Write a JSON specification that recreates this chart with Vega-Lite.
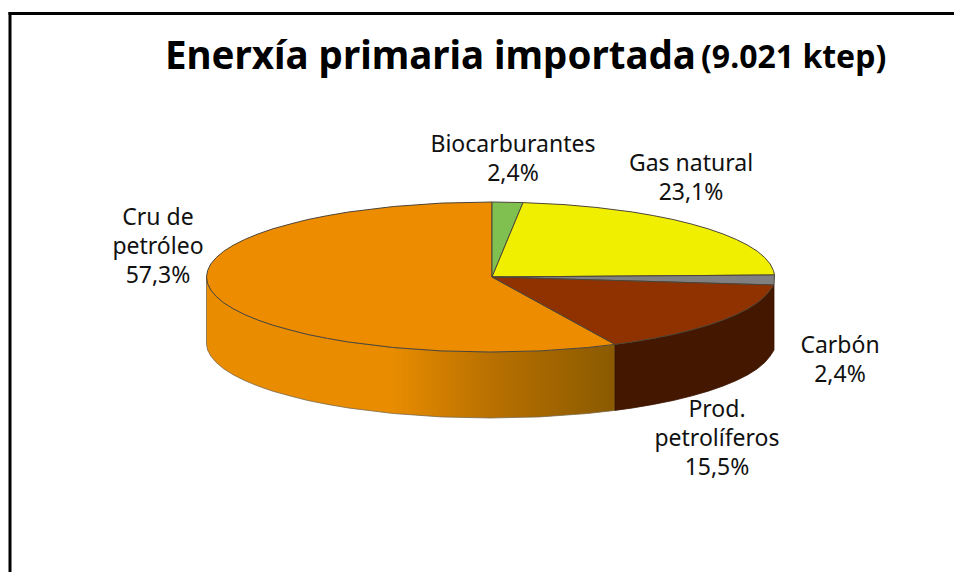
{
"$schema":"https://vega.github.io/schema/vega-lite/v6.json",
"width":954,"height":572,"padding":0,"autosize":{"type":"none"},
"background":"white",
"config":{"view":{"stroke":null}},
"datasets":{
"orangeSide":[
{"o":1,"x":206.5,"y":277},{"o":2,"x":207.6,"y":283.5},{"o":3,"x":210.8,"y":290},{"o":4,"x":216.2,"y":296.4},{"o":5,"x":223.6,"y":302.7},{"o":6,"x":233.1,"y":308.7},{"o":7,"x":244.6,"y":314.5},{"o":8,"x":257.9,"y":320},{"o":9,"x":272.9,"y":325.2},{"o":10,"x":290.3,"y":330},{"o":11,"x":307.9,"y":334.5},{"o":12,"x":327.6,"y":338.4},{"o":13,"x":348.5,"y":342},{"o":14,"x":393.4,"y":347.5},{"o":15,"x":441.2,"y":350.9},{"o":16,"x":490.5,"y":352},{"o":17,"x":539.8,"y":350.9},{"o":18,"x":587.6,"y":347.5},{"o":19,"x":615,"y":344.4},
{"o":20,"x":615,"y":410.4},{"o":21,"x":587.6,"y":413.5},{"o":22,"x":539.8,"y":416.9},{"o":23,"x":490.5,"y":418},{"o":24,"x":441.2,"y":416.9},{"o":25,"x":393.4,"y":413.5},{"o":26,"x":348.5,"y":408},{"o":27,"x":327.6,"y":404.4},{"o":28,"x":307.9,"y":400.5},{"o":29,"x":290.3,"y":396},{"o":30,"x":272.9,"y":391.2},{"o":31,"x":257.9,"y":386},{"o":32,"x":244.6,"y":380.5},{"o":33,"x":233.1,"y":374.7},{"o":34,"x":223.6,"y":368.7},{"o":35,"x":216.2,"y":362.4},{"o":36,"x":210.8,"y":356},{"o":37,"x":207.6,"y":350},{"o":38,"x":206.5,"y":344},{"o":39,"x":206.5,"y":277}],
"brownSide":[
{"o":1,"x":615,"y":344.4},{"o":2,"x":632.5,"y":342},{"o":3,"x":653.4,"y":338.4},{"o":4,"x":673.1,"y":334.5},{"o":5,"x":691.3,"y":330},{"o":6,"x":708.1,"y":325.2},{"o":7,"x":723.1,"y":320},{"o":8,"x":736.4,"y":314.5},{"o":9,"x":747.9,"y":308.7},{"o":10,"x":757.4,"y":302.7},{"o":11,"x":764.8,"y":296.4},{"o":12,"x":770.2,"y":290},{"o":13,"x":774,"y":285},
{"o":14,"x":774,"y":350},{"o":15,"x":770.2,"y":356},{"o":16,"x":764.8,"y":362.4},{"o":17,"x":757.4,"y":368.7},{"o":18,"x":747.9,"y":374.7},{"o":19,"x":736.4,"y":380.5},{"o":20,"x":723.1,"y":386},{"o":21,"x":708.1,"y":391.2},{"o":22,"x":691.3,"y":396},{"o":23,"x":673.1,"y":400.5},{"o":24,"x":653.4,"y":404.4},{"o":25,"x":632.5,"y":408},{"o":26,"x":615,"y":410.4},{"o":27,"x":615,"y":344.4}],
"wedges":[
{"sector":"Cru de petróleo","o":1,"x":492,"y":277},{"sector":"Cru de petróleo","o":2,"x":615,"y":344.4},{"sector":"Cru de petróleo","o":3,"x":587.6,"y":347.5},{"sector":"Cru de petróleo","o":4,"x":539.8,"y":350.9},{"sector":"Cru de petróleo","o":5,"x":490.5,"y":352},{"sector":"Cru de petróleo","o":6,"x":441.2,"y":350.9},{"sector":"Cru de petróleo","o":7,"x":393.4,"y":347.5},{"sector":"Cru de petróleo","o":8,"x":348.5,"y":342},{"sector":"Cru de petróleo","o":9,"x":327.6,"y":338.4},{"sector":"Cru de petróleo","o":10,"x":307.9,"y":334.5},{"sector":"Cru de petróleo","o":11,"x":290.3,"y":330},{"sector":"Cru de petróleo","o":12,"x":272.9,"y":325.2},{"sector":"Cru de petróleo","o":13,"x":257.9,"y":320},{"sector":"Cru de petróleo","o":14,"x":244.6,"y":314.5},{"sector":"Cru de petróleo","o":15,"x":233.1,"y":308.7},{"sector":"Cru de petróleo","o":16,"x":223.6,"y":302.7},{"sector":"Cru de petróleo","o":17,"x":216.2,"y":296.4},{"sector":"Cru de petróleo","o":18,"x":210.8,"y":290},{"sector":"Cru de petróleo","o":19,"x":207.6,"y":283.5},{"sector":"Cru de petróleo","o":20,"x":206.5,"y":277},{"sector":"Cru de petróleo","o":21,"x":207.6,"y":270.5},{"sector":"Cru de petróleo","o":22,"x":210.8,"y":264},{"sector":"Cru de petróleo","o":23,"x":216.2,"y":257.6},{"sector":"Cru de petróleo","o":24,"x":223.6,"y":251.3},{"sector":"Cru de petróleo","o":25,"x":233.1,"y":245.3},{"sector":"Cru de petróleo","o":26,"x":244.6,"y":239.5},{"sector":"Cru de petróleo","o":27,"x":257.9,"y":234},{"sector":"Cru de petróleo","o":28,"x":272.9,"y":228.8},{"sector":"Cru de petróleo","o":29,"x":290.3,"y":224},{"sector":"Cru de petróleo","o":30,"x":307.9,"y":219.5},{"sector":"Cru de petróleo","o":31,"x":327.6,"y":215.6},{"sector":"Cru de petróleo","o":32,"x":348.5,"y":212},{"sector":"Cru de petróleo","o":33,"x":393.4,"y":206.5},{"sector":"Cru de petróleo","o":34,"x":441.2,"y":203.1},{"sector":"Cru de petróleo","o":35,"x":492,"y":202},{"sector":"Cru de petróleo","o":36,"x":492,"y":277},
{"sector":"Biocarburantes","o":1,"x":492,"y":277},{"sector":"Biocarburantes","o":2,"x":492,"y":202},{"sector":"Biocarburantes","o":3,"x":523,"y":202.6},{"sector":"Biocarburantes","o":4,"x":492,"y":277},
{"sector":"Gas natural","o":1,"x":492,"y":277},{"sector":"Gas natural","o":2,"x":523,"y":202.6},{"sector":"Gas natural","o":3,"x":564,"y":204.6},{"sector":"Gas natural","o":4,"x":596.9,"y":207.5},{"sector":"Gas natural","o":5,"x":632.5,"y":212},{"sector":"Gas natural","o":6,"x":653.4,"y":215.6},{"sector":"Gas natural","o":7,"x":673.1,"y":219.5},{"sector":"Gas natural","o":8,"x":691.3,"y":224},{"sector":"Gas natural","o":9,"x":708.1,"y":228.8},{"sector":"Gas natural","o":10,"x":723.1,"y":234},{"sector":"Gas natural","o":11,"x":736.4,"y":239.5},{"sector":"Gas natural","o":12,"x":747.9,"y":245.3},{"sector":"Gas natural","o":13,"x":757.4,"y":251.3},{"sector":"Gas natural","o":14,"x":764.8,"y":257.6},{"sector":"Gas natural","o":15,"x":770.2,"y":264},{"sector":"Gas natural","o":16,"x":773.4,"y":270.5},{"sector":"Gas natural","o":17,"x":774.5,"y":275},{"sector":"Gas natural","o":18,"x":492,"y":277},
{"sector":"Carbón","o":1,"x":492,"y":277},{"sector":"Carbón","o":2,"x":774.5,"y":275},{"sector":"Carbón","o":3,"x":774,"y":285},{"sector":"Carbón","o":4,"x":492,"y":277},
{"sector":"Prod. petrolíferos","o":1,"x":492,"y":277},{"sector":"Prod. petrolíferos","o":2,"x":774,"y":285},{"sector":"Prod. petrolíferos","o":3,"x":770.2,"y":290},{"sector":"Prod. petrolíferos","o":4,"x":764.8,"y":296.4},{"sector":"Prod. petrolíferos","o":5,"x":757.4,"y":302.7},{"sector":"Prod. petrolíferos","o":6,"x":747.9,"y":308.7},{"sector":"Prod. petrolíferos","o":7,"x":736.4,"y":314.5},{"sector":"Prod. petrolíferos","o":8,"x":723.1,"y":320},{"sector":"Prod. petrolíferos","o":9,"x":708.1,"y":325.2},{"sector":"Prod. petrolíferos","o":10,"x":691.3,"y":330},{"sector":"Prod. petrolíferos","o":11,"x":673.1,"y":334.5},{"sector":"Prod. petrolíferos","o":12,"x":653.4,"y":338.4},{"sector":"Prod. petrolíferos","o":13,"x":632.5,"y":342},{"sector":"Prod. petrolíferos","o":14,"x":615,"y":344.4},{"sector":"Prod. petrolíferos","o":15,"x":492,"y":277}
]},
"layer":[
{"data":{"name":"orangeSide"},
 "mark":{"type":"line","strokeWidth":0.8,"stroke":"#7a6a4a","fill":{"gradient":"linear","x1":0,"x2":1,"y1":0,"y2":0,"stops":[{"offset":0,"color":"#e98c00"},{"offset":0.45,"color":"#e98c00"},{"offset":0.7,"color":"#b87000"},{"offset":1,"color":"#8a5a00"}]}},
 "encoding":{"x":{"field":"x","type":"quantitative","scale":{"domain":[0,954]},"axis":null},"y":{"field":"y","type":"quantitative","scale":{"domain":[572,0]},"axis":null},"order":{"field":"o"}}},
{"data":{"name":"brownSide"},
 "mark":{"type":"line","strokeWidth":0.8,"stroke":"#3a1500","fill":"#441700"},
 "encoding":{"x":{"field":"x","type":"quantitative","scale":{"domain":[0,954]},"axis":null},"y":{"field":"y","type":"quantitative","scale":{"domain":[572,0]},"axis":null},"order":{"field":"o"}}},
{"data":{"name":"wedges"},
 "mark":{"type":"line","strokeWidth":1,"stroke":"#4d4538"},
 "encoding":{"x":{"field":"x","type":"quantitative","scale":{"domain":[0,954]},"axis":null},"y":{"field":"y","type":"quantitative","scale":{"domain":[572,0]},"axis":null},"order":{"field":"o"},
  "fill":{"field":"sector","type":"nominal","legend":null,"scale":{"domain":["Cru de petróleo","Biocarburantes","Gas natural","Carbón","Prod. petrolíferos"],"range":["#ee8c00","#80c050","#f0ef00","#808080","#8f3200"]}}}},
{"data":{"values":[
 {"label":"Biocarburantes\n2,4%","x":513,"y":145},
 {"label":"Gas natural\n23,1%","x":691,"y":164},
 {"label":"Cru de\npetróleo\n57,3%","x":158,"y":218},
 {"label":"Carbón\n2,4%","x":840,"y":346},
 {"label":"Prod.\npetrolíferos\n15,5%","x":717,"y":410}]},
 "mark":{"type":"text","font":"Noto Sans","fontSize":23,"lineHeight":29,"lineBreak":"\n","color":"#111111","align":"center","baseline":"middle"},
 "encoding":{"x":{"field":"x","type":"quantitative","scale":{"domain":[0,954]},"axis":null},"y":{"field":"y","type":"quantitative","scale":{"domain":[572,0]},"axis":null},"text":{"field":"label"}}},
{"data":{"values":[
 {"t":"Enerxía primaria importada","x":165,"y":57,"s":"a"},
 {"t":"(9.021 ktep)","x":701,"y":58,"s":"b"}]},
 "mark":{"type":"text","font":"Noto Sans","fontWeight":"bold","align":"left","baseline":"middle","color":"black"},
 "encoding":{"x":{"field":"x","type":"quantitative","scale":{"domain":[0,954]},"axis":null},"y":{"field":"y","type":"quantitative","scale":{"domain":[572,0]},"axis":null},"text":{"field":"t"},
  "size":{"field":"s","type":"nominal","legend":null,"scale":{"domain":["a","b"],"range":[38.5,32]}}}},
{"data":{"values":[
 {"x":10,"x2":10,"y":12,"y2":572},{"x":8.5,"x2":954,"y":13.5,"y2":13.5}]},
 "mark":{"type":"rule","color":"black","strokeWidth":3},
 "encoding":{"x":{"field":"x","type":"quantitative","scale":{"domain":[0,954]},"axis":null},"x2":{"field":"x2"},"y":{"field":"y","type":"quantitative","scale":{"domain":[572,0]},"axis":null},"y2":{"field":"y2"}}}
]}
